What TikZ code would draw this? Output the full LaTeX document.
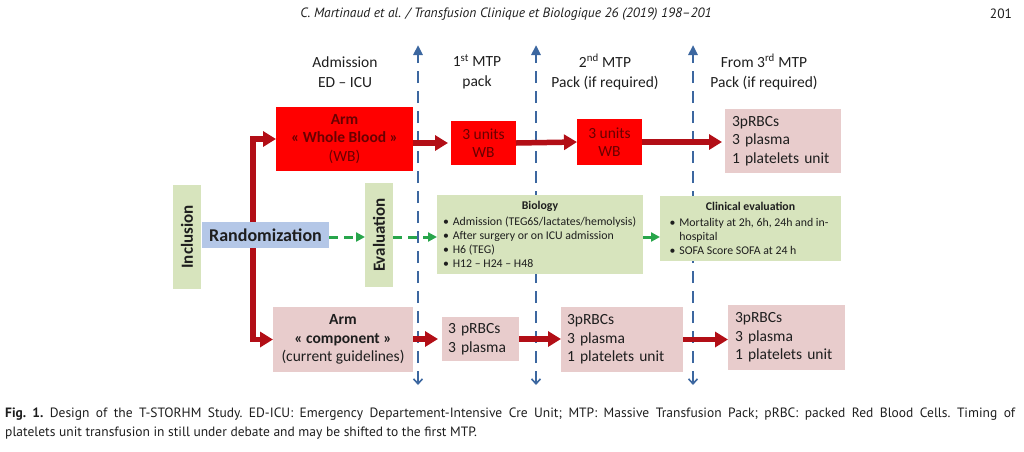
\documentclass[tikz,border=0pt]{standalone}
\usepackage{fontspec}
\setmainfont{Carlito}
\newfontfamily\capfont{PT Sans}
\usetikzlibrary{arrows.meta}
\definecolor{wbred}{RGB}{255,0,0}
\definecolor{wbtext}{RGB}{105,0,0}
\definecolor{arrred}{RGB}{178,14,22}
\definecolor{pinkbox}{RGB}{232,204,204}
\definecolor{greenbox}{RGB}{215,228,189}
\definecolor{bluebox}{RGB}{180,199,231}
\definecolor{garrow}{RGB}{40,165,75}
\definecolor{vblue}{RGB}{60,103,160}
\definecolor{txt}{RGB}{30,30,30}
\newcommand{\bul}{\textbullet\hspace{4pt}}
\newcommand{\nobul}{\phantom{\textbullet}\hspace{4pt}}
\tikzset{
  box/.style={draw=none, inner sep=0pt, outer sep=0pt, align=center, text=txt},
  wbbox/.style={box, fill=wbred, text=wbtext, font=\fontsize{15.5}{18.5}\selectfont},
  pbox/.style={box, fill=pinkbox, font=\fontsize{15.5}{18.5}\selectfont},
  lbox/.style={pbox, align=left},
  gbox/.style={box, fill=greenbox},
  rotbox/.style={gbox, rotate=90, minimum width=104pt, minimum height=28pt, font=\fontsize{17}{20}\selectfont\bfseries},
  smalltxt/.style={font=\fontsize{11.8}{14}\selectfont, align=left},
  colhead/.style={align=center, text=txt, font=\fontsize{15.5}{20}\selectfont, inner sep=0pt},
  captxt/.style={anchor=west, inner sep=0pt, text=txt, font=\capfont\fontsize{13.5}{15}\selectfont\frenchspacing},
  vline/.style={draw=vblue, line width=2.6pt, dash pattern=on 12pt off 8pt,
    {Straight Barb[length=5pt,width=9pt,line width=1.6pt]}-{Triangle[length=10pt,width=9pt]}},
  redarrow/.style={draw=arrred, line width=5.5pt, -{Triangle[length=13pt,width=15pt]}},
  greenarrow/.style={draw=garrow, line width=3pt, dash pattern=on 9pt off 6pt, -{Triangle[length=9pt,width=9pt]}},
}
\begin{document}
\begin{tikzpicture}[x=1pt,y=-1pt]
\useasboundingbox (0,0) rectangle (1024,451);
% header
\node[text=txt, inner sep=0pt, font=\capfont\itshape\fontsize{13.5}{15}\selectfont] (hdr) at (506,14)
  {C. Martinaud et al. / Transfusion Clinique et Biologique 26 (2019) 198–201};
\node[text=txt, inner sep=0pt, font=\capfont\fontsize{13.5}{15}\selectfont] (pg) at (1001,14) {201};
% column headers
\node[colhead] (h1) at (345,72) {Admission\\ED – ICU};
\node[colhead] (h2) at (477,72) {1\textsuperscript{st} MTP\\pack};
\node[colhead] (h3) at (605,72) {2\textsuperscript{nd} MTP\\Pack (if required)};
\node[colhead] (h4) at (764,72) {From 3\textsuperscript{rd} MTP\\Pack (if required)};
% vertical timeline lines
\coordinate (v1t) at (418,45); \coordinate (v1b) at (418,385);
\coordinate (v2t) at (536,45); \coordinate (v2b) at (536,385);
\coordinate (v3t) at (693,45); \coordinate (v3b) at (693,385);
\draw[vline] (v1b) -- (v1t);
\draw[vline] (v2b) -- (v2t);
\draw[vline] (v3b) -- (v3t);
% boxes
\node[rotbox] (incl) at (187,237) {Inclusion};
\node[box, fill=bluebox, minimum width=127pt, minimum height=26pt, font=\fontsize{18}{21}\selectfont\bfseries] (rand) at (265.5,235) {Randomization};
\node[rotbox] (eval) at (379,235) {Evaluation};
\node[gbox, smalltxt, minimum width=206pt, minimum height=79pt] (bio) at (540,234.5)
  {\makebox[194pt]{\textbf{Biology}}\\[1.5pt]
   \bul Admission (TEG6S/lactates/hemolysis)\\
   \bul After surgery or on ICU admission\\
   \bul H6 (TEG)\\
   \bul H12 – H24 – H48};
\node[gbox, smalltxt, minimum width=181pt, minimum height=65pt] (clin) at (750.5,228.5)
  {\makebox[162pt]{\textbf{Clinical evaluation}}\\[1.5pt]
   \bul Mortality at 2h, 6h, 24h and in-\\
   \nobul hospital\\
   \bul SOFA Score SOFA at 24 h};
\node[wbbox, minimum width=137pt, minimum height=64pt] (wb) at (344.5,139)
  {\textbf{Arm}\\\textbf{« Whole Blood »}\\(WB)};
\node[wbbox, minimum width=65pt, minimum height=44pt] (wb1) at (483.5,143) {3 units\\WB};
\node[wbbox, minimum width=65pt, minimum height=46pt] (wb2) at (609.5,142) {3 units\\WB};
\node[lbox, minimum width=116pt, minimum height=64pt, text width=102pt] (tr) at (783,141)
  {3pRBCs\\3 plasma\\1 platelets unit};
\node[pbox, minimum width=140pt, minimum height=65pt] (comp) at (343,339.5)
  {\textbf{Arm}\\\textbf{« component »}\\(current guidelines)};
\node[lbox, minimum width=77pt, minimum height=44pt, text width=65pt] (c1) at (480.5,339)
  {3 pRBCs\\3 plasma};
\node[lbox, minimum width=122pt, minimum height=65pt, text width=110pt] (c2) at (622,339.5)
  {3pRBCs\\3 plasma\\1 platelets unit};
\node[lbox, minimum width=117pt, minimum height=65pt, text width=103pt] (c3) at (786.5,337.5)
  {3pRBCs\\3 plasma\\1 platelets unit};
% red arrows
\coordinate (br) at (253,0);
\draw[redarrow] (rand.north -| br) |- (wb.west);
\draw[redarrow] (rand.south -| br) |- (comp.west);
\draw[redarrow, shorten >=3pt] (wb1.west -| wb.east) -- (wb1.west);
\draw[redarrow] (wb1.east) -- (wb2.west);
\draw[redarrow, shorten >=3pt] (wb2.east) -- (tr.west |- wb2.east);
\draw[redarrow, shorten >=4pt] (comp.east |- c1.west) -- (c1.west);
\draw[redarrow] (c1.east) -- (c2.west |- c1.east);
\draw[redarrow] (c2.east) -- (c3.west |- c2.east);
% green arrows
\coordinate (gy) at (0,237);
\draw[greenarrow] (rand.east |- gy) -- (eval.north |- gy);
\draw[greenarrow] (eval.south |- gy) -- (bio.west |- gy);
\draw[greenarrow, dash pattern=on 10pt off 0pt] (bio.east |- gy) -- (clin.west |- gy);
% caption
\node[captxt] (cap1) at (5,414)
  {\makebox[1010pt][s]{\textbf{Fig. 1.} Design of the T-STORHM Study. ED-ICU: Emergency Departement-Intensive Cre Unit; MTP: Massive Transfusion Pack; pRBC: packed Red Blood Cells. Timing of}};
\node[captxt] (cap2) at (5,433)
  {platelets unit transfusion in still under debate and may be shifted to the first MTP.};
\end{tikzpicture}
\end{document}
